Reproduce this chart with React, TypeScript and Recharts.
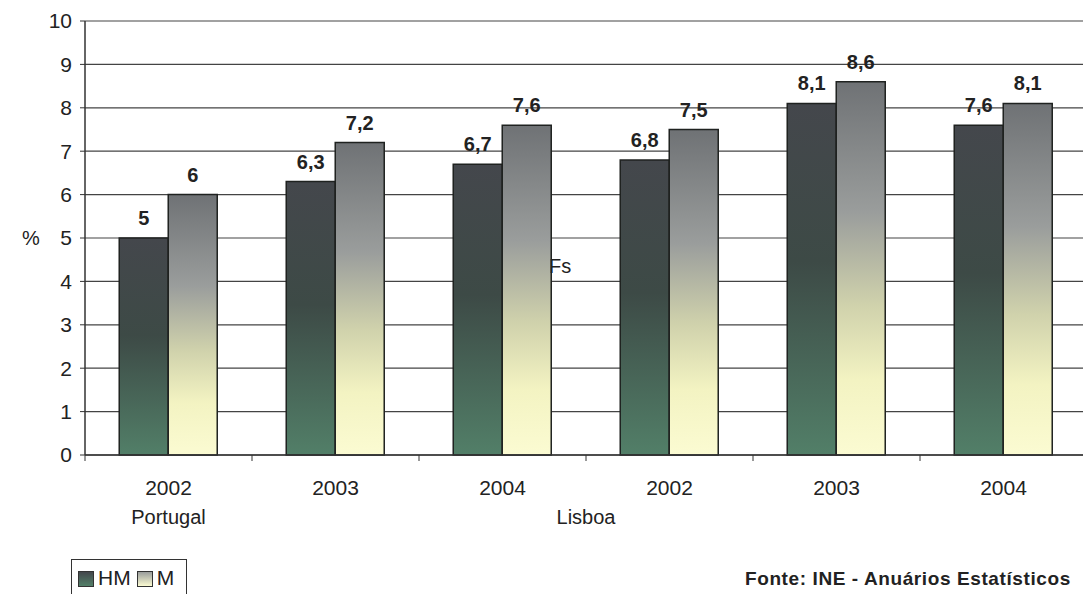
import { BarChart, Bar, XAxis, YAxis, CartesianGrid, LabelList } from 'recharts'

// categories (year) and the region group each belongs to
const years = ['2002', '2003', '2004', '2002', '2003', '2004']
const regions = ['Portugal', '', '', 'Lisboa', '', '']
const hmValues = [5, 6.3, 6.7, 6.8, 8.1, 7.6]
const mValues = [6, 7.2, 7.6, 7.5, 8.6, 8.1]
const yTicks = [0, 1, 2, 3, 4, 5, 6, 7, 8, 9, 10]

const data = years.map((year, i) => ({
  year,
  region: regions[i],
  HM: hmValues[i],
  M: mValues[i],
}))

const FONT = '"Liberation Sans", Arial, sans-serif'
const CHART_W = 1090
const CHART_H = 594
const Y_AXIS_W = 85
const MARGIN = { top: 21, right: 3, left: 0, bottom: 79 }
const BAND = (CHART_W - Y_AXIS_W - MARGIN.left - MARGIN.right) / years.length

const comma = (v: any) => String(v).replace('.', ',')

function YearTick(props: any) {
  const { x, y, payload, index } = props
  const region = regions[index]
  return (
    <g>
      <line x1={x - BAND / 2} x2={x - BAND / 2} y1={y} y2={y + 6} stroke="#333" />
      {index === years.length - 1 && (
        <line x1={x + BAND / 2} x2={x + BAND / 2} y1={y} y2={y + 6} stroke="#333" />
      )}
      <text x={x} y={y + 40} textAnchor="middle" fontSize={21} fill="#222" fontFamily={FONT}>
        {payload.value}
      </text>
      {/* group names: Portugal under its first year, Lisboa between the two groups */}
      {region === 'Portugal' && (
        <text x={x} y={y + 69} textAnchor="middle" fontSize={20} fill="#222" fontFamily={FONT}>
          {region}
        </text>
      )}
      {region === 'Lisboa' && (
        <text x={x - BAND / 2} y={y + 69} textAnchor="middle" fontSize={20} fill="#222" fontFamily={FONT}>
          {region}
        </text>
      )}
    </g>
  )
}

export default function App() {
  return (
    <div
      style={{
        position: 'fixed',
        left: 0,
        top: 0,
        width: 1083,
        height: 594,
        overflow: 'hidden',
        background: '#fff',
        fontFamily: FONT,
      }}
    >
      <BarChart
        width={CHART_W}
        height={CHART_H}
        data={data}
        margin={MARGIN}
        barCategoryGap="20.5%"
        barGap={0}
      >
        <defs>
          <linearGradient id="gradHM" x1="0" y1="0" x2="0" y2="1">
            <stop offset="0%" stopColor="#44474c" />
            <stop offset="45%" stopColor="#3d4a46" />
            <stop offset="100%" stopColor="#527f68" />
          </linearGradient>
          <linearGradient id="gradM" x1="0" y1="0" x2="0" y2="1">
            <stop offset="0%" stopColor="#6f7275" />
            <stop offset="35%" stopColor="#9a9d9c" />
            <stop offset="60%" stopColor="#d0d2ac" />
            <stop offset="80%" stopColor="#f3f3c2" />
            <stop offset="100%" stopColor="#fbfbd2" />
          </linearGradient>
        </defs>
        <CartesianGrid vertical={false} stroke="#444" strokeWidth={1.2} />
        <XAxis
          dataKey="year"
          height={60}
          interval={0}
          tickLine={false}
          tickSize={0}
          tickMargin={0}
          axisLine={{ stroke: '#333', strokeWidth: 1.5 }}
          tick={<YearTick />}
        />
        <YAxis
          width={Y_AXIS_W}
          domain={[0, 10]}
          ticks={yTicks}
          interval={0}
          tickSize={5}
          tickMargin={8}
          axisLine={{ stroke: '#333', strokeWidth: 1.5 }}
          tickLine={{ stroke: '#333' }}
          tick={{ fontSize: 21, fill: '#222', fontFamily: FONT }}
          label={{ value: '%', position: 'insideLeft', offset: 22, fontSize: 20, fill: '#222', fontFamily: FONT }}
        />
        <Bar dataKey="HM" fill="url(#gradHM)" stroke="#1f2220" strokeWidth={1.5} isAnimationActive={false}>
          <LabelList
            dataKey="HM"
            position="top"
            offset={13}
            formatter={comma}
            style={{ fontSize: 20, fontWeight: 'bold', fill: '#222', fontFamily: FONT }}
          />
        </Bar>
        <Bar dataKey="M" fill="url(#gradM)" stroke="#1f2220" strokeWidth={1.5} isAnimationActive={false}>
          <LabelList
            dataKey="M"
            position="top"
            offset={13}
            formatter={comma}
            style={{ fontSize: 20, fontWeight: 'bold', fill: '#222', fontFamily: FONT }}
          />
        </Bar>
      </BarChart>

      {/* stray scan text */}
      <div style={{ position: 'absolute', left: 549, top: 255, fontSize: 20, color: '#222' }}>Fs</div>

      {/* legend */}
      <div
        style={{
          position: 'absolute',
          left: 71,
          top: 559,
          width: 116,
          height: 40,
          border: '1px solid #333',
          display: 'flex',
          alignItems: 'flex-start',
          paddingTop: 8,
          boxSizing: 'border-box',
          fontSize: 21,
          color: '#222',
        }}
      >
        <span
          style={{
            display: 'inline-block',
            width: 14,
            height: 14,
            marginLeft: 6,
            marginTop: 3,
            border: '1px solid #333',
            background: 'linear-gradient(#44474c, #527f68)',
          }}
        />
        <span style={{ marginLeft: 4, lineHeight: '20px' }}>HM</span>
        <span
          style={{
            display: 'inline-block',
            width: 14,
            height: 14,
            marginLeft: 6,
            marginTop: 3,
            border: '1px solid #333',
            background: 'linear-gradient(#9a9d9c, #fbfbd2)',
          }}
        />
        <span style={{ marginLeft: 4, lineHeight: '20px' }}>M</span>
      </div>

      {/* source */}
      <div
        style={{
          position: 'absolute',
          left: 745,
          top: 568,
          fontSize: 19,
          fontWeight: 'bold',
          letterSpacing: 0.6,
          color: '#222',
          whiteSpace: 'nowrap',
        }}
      >
        Fonte: INE - Anuários Estatísticos
      </div>
    </div>
  )
}
